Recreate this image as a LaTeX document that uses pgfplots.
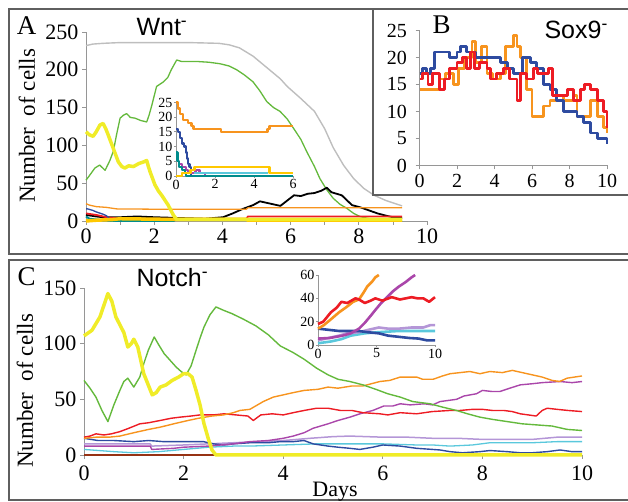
\documentclass[border=0pt]{standalone}
\usepackage{pgfplots}
\pgfplotsset{compat=1.18}
\usepackage{fontspec}
\setmainfont{Liberation Serif}
\newfontfamily\sansf{Liberation Sans}

\definecolor{axcol}{RGB}{150,150,150}
\definecolor{framecol}{RGB}{95,95,95}
\definecolor{cgray}{RGB}{190,190,190}
\definecolor{cgreen}{RGB}{100,185,60}
\definecolor{cyellow}{RGB}{240,236,40}
\definecolor{cgold}{RGB}{255,200,0}
\definecolor{corange}{RGB}{247,148,30}
\definecolor{cred}{RGB}{237,28,36}
\definecolor{cblue}{RGB}{46,75,160}
\definecolor{cteal}{RGB}{0,140,140}
\definecolor{cmag}{RGB}{170,70,170}
\definecolor{clav}{RGB}{180,150,215}
\definecolor{ccyan}{RGB}{90,200,220}
\definecolor{cbrown}{RGB}{150,50,20}

\pgfplotsset{
  panel/.style={
    scale only axis, clip=false,
    axis lines=left,
    axis line style={-, draw=axcol, line width=0.8pt},
    tick style={draw=axcol, line width=0.8pt},
    tick align=outside,
    major tick length=4pt, minor tick length=4pt,
    /pgf/number format/assume math mode=true,
    tick label style={font=\fontsize{22}{24}\selectfont},
    every axis plot/.append style={line join=round, mark=none},
  },
  inset/.style={
    panel,
    major tick length=2pt,
    tick label style={font=\fontsize{14}{15}\selectfont, inner sep=1.5pt},
  },
}

\begin{document}
\begin{tikzpicture}
\useasboundingbox (0pt,0pt) rectangle (628pt,502pt);

% ---------- panel A ----------
\draw[framecol, line width=1.5pt] (9pt,248pt) rectangle (640pt,493pt);
\begin{axis}[panel, at={(86pt,281pt)}, anchor=south west,
  width=341pt, height=189pt,
  xmin=0, xmax=10, ymin=0, ymax=250,
  xtick={0,2,...,10}, minor xtick={1,3,...,9}, ytick={0,50,...,250}]
\addplot[cgray, line width=1.4pt] coordinates {
 (0,232)(0.2,234)(0.5,235)(1,236)(2,236)(3,236)(3.9,235)(4.2,233)(4.5,229)
 (4.9,218)(5.3,203)(5.7,188)(5.9,178)(6.3,162)(6.7,145)(7.0,122)(7.25,97)
 (7.55,74)(7.85,56)(8.15,43)(8.45,34)(8.8,27)(9.27,20)};
\addplot[cgreen, line width=1.3pt] coordinates {
 (0,54)(0.1,60)(0.26,70)(0.4,74)(0.56,67)(0.7,80)(0.8,92)(0.9,115)(1.0,136)
 (1.1,140)(1.19,142)(1.3,137)(1.44,136)(1.6,133)(1.78,131)(1.85,140)(1.93,153)
 (2.07,178)(2.27,184)(2.4,190)(2.5,200)(2.66,213)(2.8,211)(3.25,211)(3.6,210)
 (3.93,208)(4.2,205)(4.42,200)(4.65,193)(4.9,184)(5.1,172)(5.3,158)(5.5,150)
 (5.69,145)(5.9,135)(6.08,123)(6.3,108)(6.47,92)(6.7,72)(6.86,56)(7.05,42)
 (7.25,30)(7.45,22)(7.64,17)(7.85,10)(8.03,6)(8.4,2)(8.7,0)(9.27,0)};
\addplot[black, line width=1.8pt] coordinates {
 (0,8)(0.3,6)(0.5,5)(1.0,5)(1.5,6)(2.0,5)(2.7,4)(3.5,3)(4.02,5)(4.3,10)(4.6,16)
 (4.9,21)(5.1,26)(5.3,24)(5.5,22)(5.7,20)(5.9,27)(6.1,34)(6.3,33)(6.5,36)
 (6.7,37)(6.9,40)(7.06,44)(7.2,38)(7.5,34)(7.8,21)(8.05,18)(8.3,14)(8.55,10)
 (8.8,7)(9.0,5)(9.27,4)};
\addplot[corange, line width=1.3pt] coordinates {
 (0,23)(0.1,21)(0.3,19)(0.6,18)(0.9,16)(2.3,15.5)(4.7,15.5)(4.75,17.5)(9.27,17.5)};
\addplot[cred, line width=1.8pt] coordinates {
 (0,10)(0.3,8)(0.6,5)(1.0,3)(4.7,3)(4.75,6)(9.27,6)};
\addplot[cblue, line width=1.3pt] coordinates {
 (0,16)(0.05,16)(0.2,14)(0.3,12)(0.5,9)(0.6,7)(0.7,3)(0.8,0)};
\addplot[cteal, line width=2pt] coordinates {
 (0,6)(0.1,3)(0.5,1)(0.8,0)(2.6,0)};
\addplot[cgold, line width=3.5pt] coordinates {
 (0,0)(0.3,1)(0.8,2)(1.0,3)(2.7,2)(4.7,2)(4.75,1)(9.27,1)};
\addplot[cyellow, line width=3.5pt] coordinates {
 (0,118)(0.1,114)(0.21,112)(0.3,118)(0.41,127)(0.5,129)(0.58,122)(0.65,114)
 (0.8,96)(0.95,78)(1.05,72)(1.14,70)(1.25,73)(1.39,72)(1.55,76)(1.68,78)
 (1.78,80)(1.83,72)(1.88,65)(2.02,48)(2.12,40)(2.22,34)(2.41,21)(2.56,8)
 (2.66,2)(9.27,2)};
\end{axis}

% inset of panel A
\begin{axis}[inset, at={(176pt,326pt)}, anchor=south west,
  width=117pt, height=73.5pt,
  xmin=0, xmax=6, ymin=0, ymax=25,
  xtick={0,2,4,6}, ytick={0,5,...,25}]
\addplot[const plot, corange, line width=2.4pt] coordinates {
 (0,25)(0.1,23)(0.2,21)(0.35,19)(0.6,18)(0.8,17)(0.9,16)(2.3,15)(4.6,15)
 (4.7,16)(4.8,17)(6,17)};
\addplot[const plot, cblue, line width=2.4pt] coordinates {
 (0.02,16)(0.1,15)(0.2,13)(0.3,11)(0.4,10)(0.5,8)(0.55,6)(0.6,4)(0.7,3)(0.78,0)};
\addplot[const plot, cmag, line width=2.4pt] coordinates {
 (0.2,4)(0.3,3)(0.5,2)(0.6,1)(1.0,2)(1.2,1)(1.5,0)};
\addplot[const plot, ccyan, line width=2.4pt] coordinates {
 (0.9,1)(4.7,1)};
\addplot[const plot, cteal, line width=2.4pt] coordinates {
 (0,8)(0.08,5)(0.15,3)(0.3,2)(0.45,1)(0.5,0)(6,0)};
\addplot[const plot, cgold, line width=2.4pt] coordinates {
 (0,0)(0.3,1)(0.75,2)(0.95,3)(4.7,3)(4.8,1)(6,1)};
\end{axis}

\node[font=\fontsize{27}{27}\selectfont] at (26.7pt,476pt) {A};
\node[font=\sansf\fontsize{25}{25}\selectfont, anchor=west] at (133pt,475pt) {Wnt\textsuperscript{-}};
\node[rotate=90, font=\fontsize{23}{23}\selectfont] at (27pt,376pt) {Number\ \ of cells};

% ---------- panel B ----------
\filldraw[fill=white, draw=framecol, line width=1.5pt] (373pt,307pt) rectangle (640pt,493pt);
\begin{axis}[panel, at={(419.5pt,336.5pt)}, anchor=south west,
  width=187.5pt, height=135pt,
  xmin=0, xmax=10, ymin=0, ymax=25,
  xtick={0,2,...,10}, ytick={0,5,...,25},
  tick label style={font=\fontsize{20}{22}\selectfont},
  yticklabel style={xshift=-5pt}, xticklabel style={yshift=-1pt}]
\addplot[const plot, corange, line width=2.8pt] coordinates {
 (0,14)(0.54,14)(1.07,16)(1.4,17)(1.8,15)(2.1,18)(2.4,20)(2.8,23)(3.0,19)
 (3.3,22)(3.6,17)(3.9,16)(4.3,17)(4.6,22)(5.0,24)(5.2,22)(5.4,20)(5.7,14)
 (6.0,9)(6.4,9)(6.6,11)(6.96,12)(7.3,13)(7.7,12)(8.0,12)(8.2,13)(8.4,9)
 (8.75,9)(9.1,12)(9.5,9)(9.8,7)(10,6)};
\addplot[const plot, cblue, line width=2.8pt] coordinates {
 (0,17)(0.18,18)(0.36,17)(0.6,18)(0.8,21)(1.25,21)(1.6,20)(2.0,21)(2.2,22)
 (2.5,21)(3.0,20)(3.75,20)(4.3,19)(4.7,18)(5.0,17)(5.2,17)(5.5,20)(5.9,19)
 (6.25,18)(6.6,15)(6.96,14)(7.3,12)(7.7,10)(8.0,10)(8.4,9)(8.75,8)(9.1,6)
 (9.5,5)(10,4)};
\addplot[const plot, cred, line width=2.8pt] coordinates {
 (0,16)(0.18,17)(0.45,15)(0.7,17)(1.07,14)(1.34,16)(1.6,18)(2.0,19)(2.3,20)
 (2.5,18)(2.7,21)(2.95,18)(3.2,19)(3.6,18)(3.8,16)(4.1,17)(4.5,18)(4.8,16)
 (5.2,12)(5.4,17)(5.7,16)(6.1,18)(6.3,17)(6.6,17)(6.9,18)(7.1,13)(7.5,13)
 (7.9,14)(8.2,12)(8.6,14)(8.8,15)(9.1,14)(9.5,12)(9.8,10)(10,7)};
\end{axis}
\node[font=\fontsize{27}{27}\selectfont] at (441.7pt,477pt) {B};
\node[font=\sansf\fontsize{25}{25}\selectfont, anchor=west] at (541pt,472pt) {Sox9\textsuperscript{-}};

% ---------- panel C ----------
\draw[framecol, line width=1.5pt] (9pt,2pt) rectangle (640pt,242pt);
\begin{axis}[panel, at={(84pt,47pt)}, anchor=south west,
  width=498pt, height=167pt,
  xmin=0, xmax=10, ymin=0, ymax=150,
  xtick={0,2,...,10}, ytick={0,50,100,150},
  xticklabel style={yshift=-3pt}]
\addplot[cbrown, line width=1.5pt] coordinates {(0,0)(10,0)};
\addplot[ccyan, line width=1.3pt] coordinates {
 (0,5)(0.3,4)(0.6,3)(1.0,2)(1.5,3)(2.0,5)(2.5,7)(3.0,8)(3.33,8)(4.0,9)(4.67,10)
 (5.5,10)(6.0,10)(6.68,9)(7.0,9)(7.35,8)(7.8,9)(8.15,11)(8.6,11)(9.0,11)
 (9.5,12)(10,12)};
\addplot[clav, line width=1.5pt] coordinates {
 (0,10)(0.5,10)(1.0,10)(1.33,10)(1.36,8)(2.0,9)(2.5,10)(3.0,11)(3.5,12)(4.0,13)
 (4.54,15)(5.0,16.5)(5.34,17)(6.0,16)(6.5,16)(7.0,15)(7.5,15)(8.0,14)(8.5,14)
 (9.0,14)(9.5,16)(10,16)};
\addplot[cblue, line width=1.4pt] coordinates {
 (0,15)(0.28,13)(0.6,13)(1.0,12)(1.3,13)(1.6,12)(2.1,12)(2.4,12)(2.6,10)
 (2.81,9)(3.0,10)(3.33,11)(3.7,11)(3.94,12)(4.2,12)(4.42,13)(4.6,10)(4.9,8)
 (5.1,7)(5.34,6)(5.54,5)(5.8,7)(6.0,9)(6.35,8)(6.68,6)(7.0,5)(7.15,4.5)
 (7.35,3)(7.6,2)(7.95,3)(8.15,4)(8.5,3)(8.76,2)(9.0,2)(9.3,3)(9.56,4.5)
 (9.8,3)(10,3)};
\addplot[cmag, line width=1.4pt] coordinates {
 (0,8)(0.5,8)(1.0,8)(1.33,8)(1.36,5)(1.8,6)(2.0,7)(2.5,8)(3.0,10)(3.33,12)
 (3.7,13)(4.0,15)(4.2,17)(4.42,20)(4.6,24)(4.9,28)(5.1,31)(5.34,34)(5.54,37)
 (5.8,40)(6.02,44)(6.2,44)(6.35,46)(6.55,45)(6.83,46)(7.0,45)(7.15,48)
 (7.48,50)(7.63,53)(7.88,55)(8.0,58)(8.2,57)(8.35,57)(8.55,60)(8.76,63)
 (9.0,64)(9.2,65)(9.56,66)(9.8,65)(10,66)};
\addplot[cred, line width=1.4pt] coordinates {
 (0,16)(0.12,17)(0.24,19)(0.4,18)(0.55,19)(0.72,21)(0.9,24)(1.12,28)(1.3,29)
 (1.53,31)(1.75,33)(1.93,34)(2.15,35)(2.33,36)(2.6,36)(2.81,37)(3.05,36)
 (3.29,35)(3.4,31)(3.55,36)(3.78,37)(4.0,36)(4.2,38)(4.42,40)(4.67,42)(4.9,42)
 (5.15,40)(5.38,40)(5.6,38)(5.94,37)(6.1,36)(6.35,38)(6.68,37)(6.99,39)
 (7.35,40)(7.55,40)(7.8,41)(8.0,41)(8.2,40)(8.43,40)(8.6,39)(8.76,37)(9.08,35)
 (9.2,40)(9.3,42)(9.5,41)(9.72,40)(10,39)};
\addplot[corange, line width=1.4pt] coordinates {
 (0,15)(0.24,16)(0.5,16)(0.72,17)(1.0,20)(1.3,23)(1.53,25)(1.8,28)(2.09,31)
 (2.3,33)(2.57,35)(2.8,36)(3.0,38)(3.13,40)(3.33,41)(3.6,48)(3.8,52)(4.0,54)
 (4.2,56)(4.42,58)(4.7,59)(4.9,61)(5.1,60)(5.38,62)(5.6,62)(5.94,66)(6.14,67)
 (6.35,70)(6.68,70)(6.8,68)(7.01,68)(7.2,71)(7.35,73)(7.55,74)(7.75,75)
 (7.95,73)(8.15,75)(8.4,74)(8.6,76)(8.8,74)(9.0,72)(9.2,70)(9.4,67)(9.55,66)
 (9.7,69)(9.85,70)(10,71)};
\addplot[cgreen, line width=1.4pt] coordinates {
 (0,67)(0.12,60)(0.24,52)(0.36,40)(0.48,30)(0.6,45)(0.72,58)(0.8,66)(0.88,69)
 (1.0,61)(1.12,70)(1.2,82)(1.29,94)(1.41,106)(1.5,99)(1.61,91)(1.73,85)
 (1.85,79)(1.95,75)(2.05,72)(2.15,80)(2.25,94)(2.33,105)(2.41,115)(2.53,126)
 (2.65,133)(2.8,130)(2.97,127)(3.2,122)(3.45,116)(3.7,108)(3.94,98)(4.2,92)
 (4.42,86)(4.67,78)(4.9,72)(5.1,68)(5.34,66)(5.6,63)(5.86,59)(6.1,55)
 (6.35,52)(6.6,48)(6.95,46)(7.2,43)(7.48,40)(7.7,37)(7.95,34)(8.2,32)(8.5,30)
 (8.8,28)(9.1,27)(9.4,26)(9.7,23)(10,22)};
\addplot[cyellow, line width=3.5pt] coordinates {
 (0,107)(0.16,112)(0.32,124)(0.48,145)(0.56,138)(0.64,124)(0.8,110)(0.88,97)
 (0.95,100)(1.0,104)(1.08,97)(1.2,73)(1.37,54)(1.45,56)(1.53,61)(1.65,63)
 (1.77,67)(1.9,70)(2.0,73)(2.09,73)(2.17,70)(2.25,58)(2.33,45)(2.41,28)
 (2.5,14)(2.57,4.5)(2.65,0)(10,0)};
\end{axis}

% inset of panel C
\begin{axis}[inset, at={(318pt,157pt)}, anchor=south west,
  width=117pt, height=70pt,
  xmin=0, xmax=10, ymin=0, ymax=60,
  xtick={0,5,10}, ytick={0,20,40,60}]
\addplot[ccyan, line width=2.6pt] coordinates {
 (0,1.5)(1.1,3)(2.0,5)(2.8,8)(4.0,10)(5.2,11)(6.9,12)(8.5,12)(10,12)};
\addplot[clav, line width=2.6pt] coordinates {
 (0,4)(0.9,6)(1.8,8)(2.5,10)(3.5,11)(4.3,13)(5.2,15)(6,14)(6.9,14)(8,15)
 (9,15)(9.6,17)(10,17)};
\addplot[cblue, line width=2.6pt] coordinates {
 (0,14)(0.9,13)(1.8,12)(2.5,12)(3.5,12)(4.2,11)(5.2,10)(6.0,8)(6.9,7)(7.8,6)
 (8.6,5.5)(9.3,4)(10,4)};
\addplot[cmag, line width=2.6pt] coordinates {
 (0,5.5)(1,6)(2.1,8)(2.8,10)(3.5,14)(4.0,19)(4.5,25)(4.9,30)(5.4,36)(5.9,41)
 (6.4,46)(6.9,50)(7.5,54)(8,58)(8.3,60)};
\addplot[corange, line width=2.6pt] coordinates {
 (0,14)(0.5,17)(1.1,22)(1.8,28)(2.5,33)(3.0,37)(3.5,39)(3.9,45)(4.2,50)
 (4.6,54)(4.9,58)(5.2,60)};
\addplot[cred, line width=2.6pt] coordinates {
 (0,18)(0.45,20)(1.1,28)(1.6,32)(2.0,37)(2.5,36)(3.2,40)(3.5,39)(4.0,36)
 (4.5,38)(4.9,40)(5.5,38)(6.3,41)(7.0,39)(8,41)(8.5,40)(9,40)(9.5,37)(10,41)};
\end{axis}

\node[font=\fontsize{27}{27}\selectfont] at (26.7pt,225pt) {C};
\node[font=\sansf\fontsize{25}{25}\selectfont, anchor=west] at (133pt,224pt) {Notch\textsuperscript{-}};
\node[rotate=90, font=\fontsize{23}{23}\selectfont] at (25pt,111pt) {Number\ \ of cells};
\node[font=\fontsize{22}{22}\selectfont] at (335pt,10pt) {Days};
\end{tikzpicture}
\end{document}
